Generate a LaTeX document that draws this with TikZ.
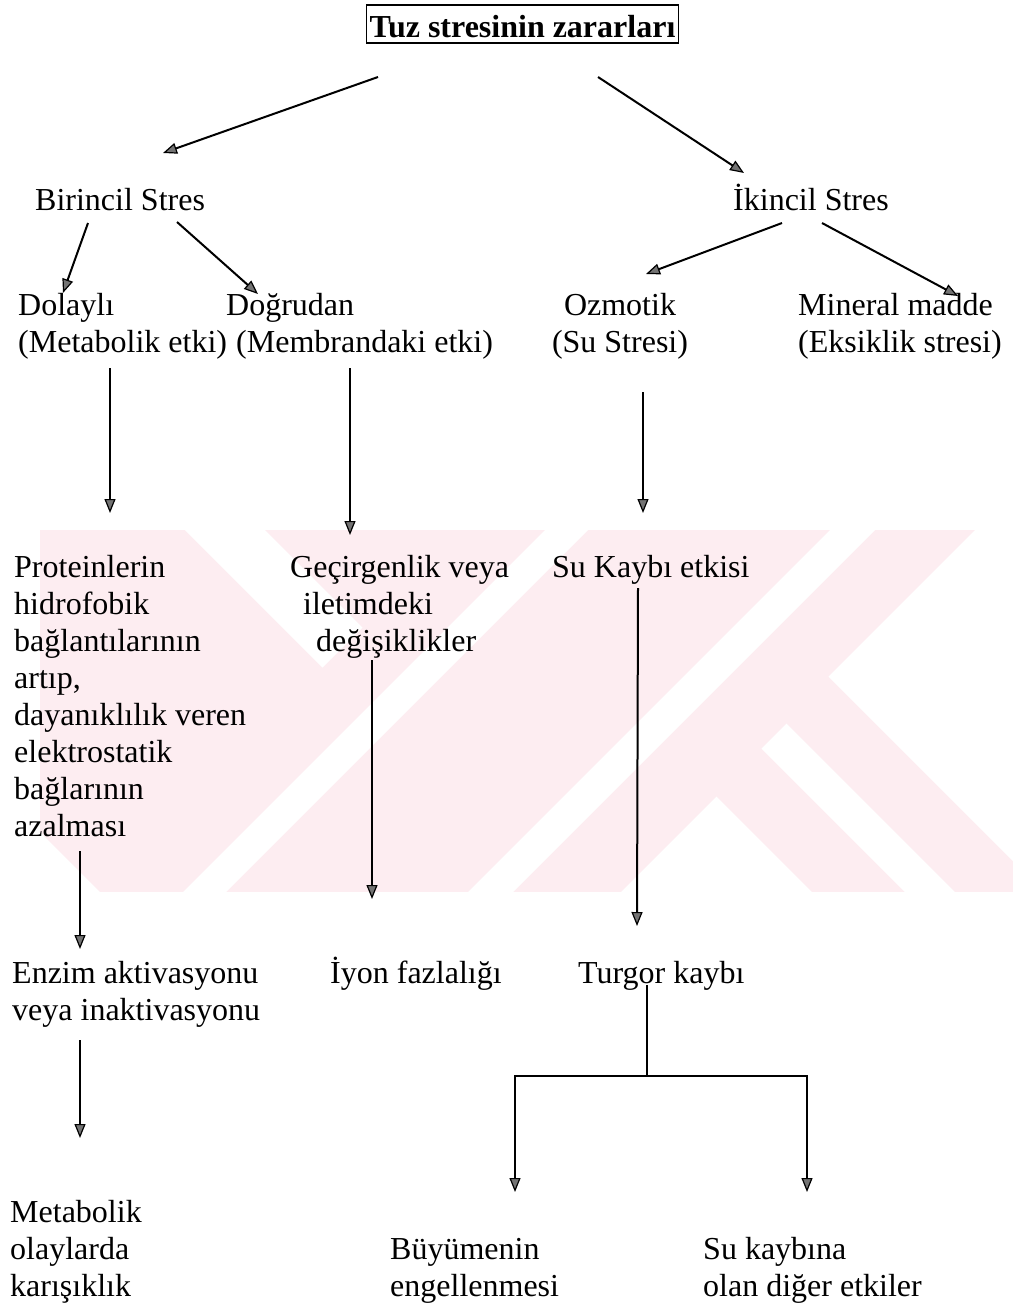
\documentclass[tikz,border=0pt]{standalone}
\usepackage{fontspec}
\setmainfont{Liberation Serif}
\usetikzlibrary{arrows.meta}
\definecolor{wm}{RGB}{253,237,241}
\begin{document}
\begin{tikzpicture}[x=1pt,y=-1pt,
  txt/.style={inner sep=0pt, font=\fontsize{32}{37}\selectfont, align=left},
  arr/.style={line width=2pt, -{Triangle[length=14pt,width=11pt,fill=black!55,line width=1.2pt]}},
  ln/.style={line width=2pt}]
\useasboundingbox (0,0) rectangle (1013,1304);
% watermark
\begin{scope}
\clip (40,530) rectangle (1013,892);
\fill[wm] (40,530) rectangle (1013,892);
\fill[white] (30,822) -- (30,900) -- (108,900) -- cycle;
\fill[white] (185,530) -- (265,530) -- (362.5,627.5) -- (322.5,667.5) -- cycle;
\fill[white] (545,530) -- (588,530) -- (226,892) -- (183,892) -- cycle;
\fill[white] (830,530) -- (875,530) -- (513,892) -- (468,892) -- cycle;
\fill[white] (975,530) -- (1013,530) -- (1013,861) -- (828.5,676.5) -- cycle;
\fill[white] (786.5,723.5) -- (955,892) -- (905,892) -- (761.5,748.5) -- cycle;
\fill[white] (716.5,796.5) -- (812,892) -- (621,892) -- cycle;
\end{scope}
% nodes
\node[txt, draw, line width=1.2pt, anchor=base, inner xsep=3pt, inner ysep=0pt,
      text height=32pt, text depth=6pt, font=\fontsize{32}{37}\selectfont\bfseries]
  (title) at (522.5,37) {Tuz stresinin zararları};
\node[txt, anchor=base west] (bir) at (35,210) {Birincil Stres};
\node[txt, anchor=base west] (iki) at (733,210) {İkincil Stres};
\node[txt, anchor=north west] (dol) at (18,289) {\rule{0pt}{26pt}Dolaylı\\(Metabolik etki)};
\node[txt, anchor=north west] (dog) at (226,289) {\rule{0pt}{26pt}Doğrudan\\\hspace*{10pt}(Membrandaki etki)};
\node[txt, anchor=north, align=center] (ozm) at (620,289) {\rule{0pt}{26pt}Ozmotik\\(Su Stresi)};
\node[txt, anchor=north west] (min) at (798,289) {\rule{0pt}{26pt}Mineral madde\\(Eksiklik stresi)};
\node[txt, anchor=north west] (pro) at (14,551) {\rule{0pt}{26pt}Proteinlerin\\hidrofobik\\bağlantılarının\\artıp,\\dayanıklılık veren\\elektrostatik\\bağlarının\\azalması};
\node[txt, anchor=north west] (gec) at (290,551) {\rule{0pt}{26pt}Geçirgenlik veya\\\hspace*{13pt}iletimdeki\\\hspace*{26pt}değişiklikler};
\node[txt, anchor=base west] (suk) at (552,577) {Su Kaybı etkisi};
\node[txt, anchor=north west] (enz) at (12,957) {\rule{0pt}{26pt}Enzim aktivasyonu\\veya inaktivasyonu};
\node[txt, anchor=base west] (iyon) at (330,983) {İyon fazlalığı};
\node[txt, anchor=base west] (tur) at (578,983) {Turgor kaybı};
\node[txt, anchor=north west] (met) at (10,1196) {\rule{0pt}{26pt}Metabolik\\olaylarda\\karışıklık};
\node[txt, anchor=north west] (buy) at (390,1233) {\rule{0pt}{26pt}Büyümenin\\engellenmesi};
\node[txt, anchor=north west] (sukay) at (703,1233) {\rule{0pt}{26pt}Su kaybına\\olan diğer etkiler};
% connector end points
\coordinate (title-l) at (378,77);
\coordinate (title-r) at (598,77);
\coordinate (bir-in) at (163,153);
\coordinate (iki-in) at (744,173);
\coordinate (bir-l) at (88,223);
\coordinate (bir-r) at (177,222);
\coordinate (dol-in) at (63,293);
\coordinate (dog-in) at (258,294);
\coordinate (iki-l) at (782,223);
\coordinate (iki-r) at (822,223);
\coordinate (ozm-in) at (646,274);
\coordinate (min-in) at (958,296);
\coordinate (dol-out) at (110,368);
\coordinate (pro-in) at (110,513);
\coordinate (dog-out) at (350,368);
\coordinate (gec-in) at (350,535);
\coordinate (ozm-out) at (643,392);
\coordinate (suk-in) at (643,513);
\coordinate (pro-out) at (80,851);
\coordinate (enz-in) at (80,949);
\coordinate (gec-out) at (372,660);
\coordinate (iyon-in) at (372,899);
\coordinate (suk-out) at (638,588);
\coordinate (tur-in) at (637,926);
\coordinate (enz-out) at (80,1040);
\coordinate (met-in) at (80,1138);
\coordinate (tur-out) at (647,985);
\coordinate (fork) at (647,1076);
\coordinate (fork-l) at (515,1076);
\coordinate (fork-r) at (807,1076);
\coordinate (buy-in) at (515,1192);
\coordinate (sukay-in) at (807,1192);
% connectors
\draw[arr] (title-l) -- (bir-in);
\draw[arr] (title-r) -- (iki-in);
\draw[arr] (bir-l) -- (dol-in);
\draw[arr] (bir-r) -- (dog-in);
\draw[arr] (iki-l) -- (ozm-in);
\draw[arr] (iki-r) -- (min-in);
\draw[arr] (dol-out) -- (pro-in);
\draw[arr] (dog-out) -- (gec-in);
\draw[arr] (ozm-out) -- (suk-in);
\draw[arr] (pro-out) -- (enz-in);
\draw[arr] (gec-out) -- (iyon-in);
\draw[arr] (suk-out) -- (tur-in);
\draw[arr] (enz-out) -- (met-in);
\draw[ln] (tur-out) -- (fork);
\draw[ln, line cap=rect] (fork-l) -- (fork-r);
\draw[arr] (fork-l) -- (buy-in);
\draw[arr] (fork-r) -- (sukay-in);
\end{tikzpicture}
\end{document}
